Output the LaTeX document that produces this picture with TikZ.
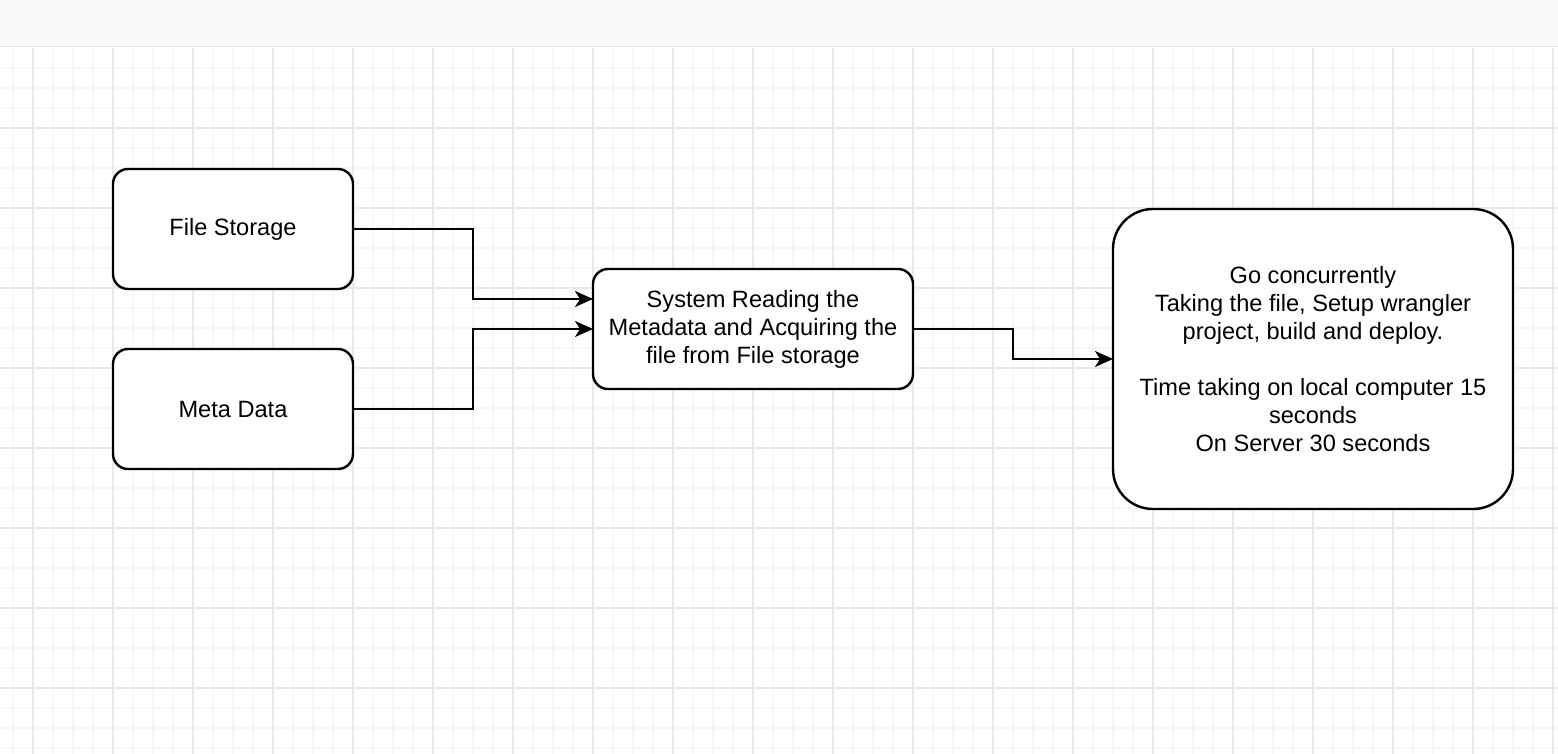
\documentclass[tikz,border=0pt]{standalone}
\usepackage{fontspec}
\setmainfont{Liberation Sans}
\usetikzlibrary{arrows.meta}
\begin{document}
\begin{tikzpicture}[x=1pt,y=-1pt,
  box/.style={draw=black,line width=2.4pt,fill=white,inner sep=0pt,outer sep=0pt,
    align=center,font=\fontsize{23.6pt}{28pt}\selectfont,text=black},
  conn/.style={draw=black,line width=2.2pt,-{Stealth[length=18pt,width=16pt,inset=5pt]}},
  minorgrid/.style={draw=gray!7,line width=1.2pt},
  majorgrid/.style={draw=gray!17,line width=1.6pt}]
\useasboundingbox (0,0) rectangle (1558,754);
\fill[white] (0,0) rectangle (1558,754);
% grid
\foreach \x in {13,53,...,1553} \draw[minorgrid] (\x,48) -- (\x,754);
\foreach \x in {73,153,...,1553} \draw[minorgrid] (\x,48) -- (\x,754);
\foreach \y in {68,88,108,148,168,188,228,248,268,308,328,348,388,408,428,468,488,508,548,568,588,628,648,668,708,728,748} \draw[minorgrid] (0,\y) -- (1558,\y);
\foreach \x in {33,113,...,1553} \draw[majorgrid] (\x,48) -- (\x,754);
\foreach \y in {128,208,...,688} \draw[majorgrid] (0,\y) -- (1558,\y);
% top bar
\fill[black!2] (0,0) rectangle (1558,46);
\draw[black!10,line width=1.5pt] (0,46.5) -- (1558,46.5);
% nodes
\node[box,rounded corners=15pt,minimum width=240pt,minimum height=120pt] (fs) at (233,229) {File Storage};
\node[box,rounded corners=15pt,minimum width=240pt,minimum height=120pt] (md) at (233,409) {Meta Data};
\node[box,rounded corners=15pt,minimum width=320pt,minimum height=120pt] (mid) at (753,329) {System Reading the\\Metadata and Acquiring the\\file from File storage};
\node[box,rounded corners=40pt,minimum width=400pt,minimum height=300pt] (rb) at (1313,359) {Go concurrently\\Taking the file, Setup wrangler\\project, build and deploy.\\[28pt]Time taking on local computer 15\\seconds\\On Server 30 seconds};
% connectors
\coordinate (b1) at (473,299);
\coordinate (b2) at (473,329);
\coordinate (b3) at (1013,359);
\draw[conn] (fs.east) -| (b1) -- (mid.west |- b1);
\draw[conn] (md.east) -| (b2) -- (mid.west);
\draw[conn] (mid.east) -| (b3) -- (rb.west);
\end{tikzpicture}
\end{document}
